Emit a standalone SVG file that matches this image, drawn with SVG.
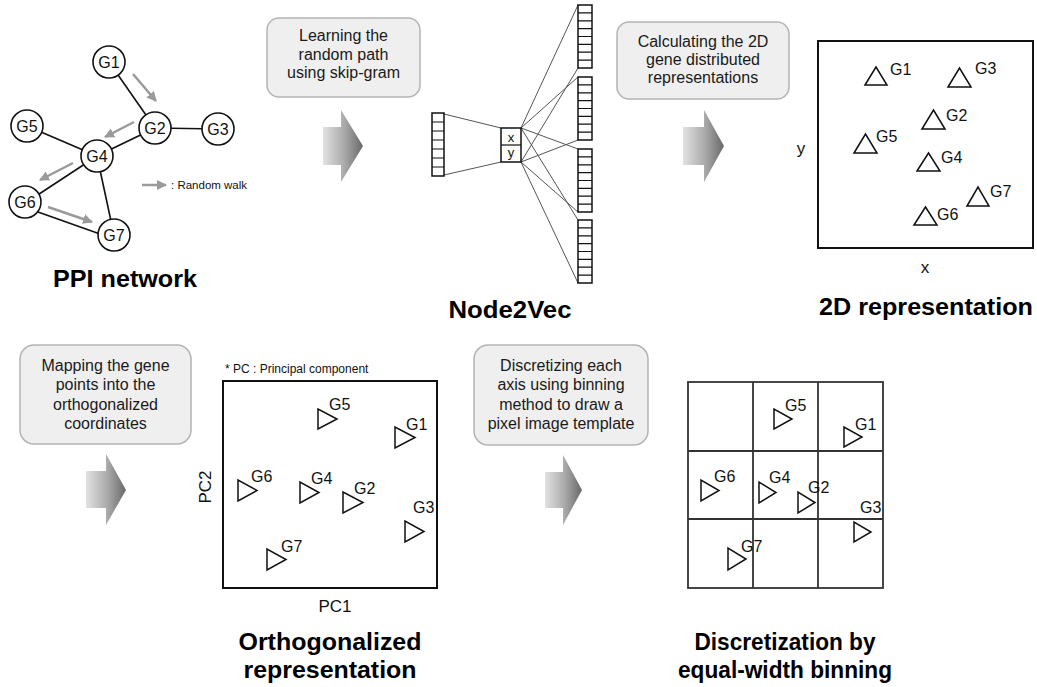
<svg xmlns="http://www.w3.org/2000/svg" width="1037" height="687" viewBox="0 0 1037 687">
<defs>
<linearGradient id="gArrow" x1="0" y1="0" x2="1" y2="0">
<stop offset="0" stop-color="#e2e2e2"/>
<stop offset="0.55" stop-color="#a8a8a8"/>
<stop offset="1" stop-color="#686868"/>
</linearGradient>
<marker id="walk" viewBox="0 0 10 10" refX="9" refY="5" markerWidth="4" markerHeight="4" orient="auto" markerUnits="strokeWidth">
<path d="M0,0 L10,5 L0,10 Z" fill="#9a9a9a"/>
</marker>
<style>
text{font-family:"Liberation Sans",Arial,sans-serif;fill:#111}
.title{font-size:23px;font-weight:bold;text-anchor:middle;fill:#000}
.box{fill:#efefef;stroke:#b4b4b4;stroke-width:1.5}
.boxt{font-size:16px;text-anchor:middle;fill:#1a1a1a}
.node{fill:#fff;stroke:#111;stroke-width:1.6}
.nlab{font-size:16px;text-anchor:middle}
.edge{stroke:#111;stroke-width:1.6}
.walk{stroke:#9a9a9a;stroke-width:2.5;fill:none}
.vec{fill:#fff;stroke:#111;stroke-width:1.5}
.cell{stroke:#111;stroke-width:1.2}
.nn{stroke:#555;stroke-width:1}
.frame{fill:none;stroke:#111;stroke-width:2}
.tri{fill:#fff;stroke:#111;stroke-width:1.5}
.glab{font-size:16px}
.grid{stroke:#333;stroke-width:1.8;fill:none}
.axis{font-size:17px;text-anchor:middle}
</style>
</defs>

<!-- process arrows -->
<g id="arrows" fill="url(#gArrow)">
<path d="M323,127 L341,127 L341,110 L363,146 L341,182 L341,165 L323,165 Z"/>
<path d="M683,127 L704,127 L704,110 L724,146 L704,182 L704,165 L683,165 Z"/>
<path d="M86,471 L106,471 L106,454 L126,490 L106,525 L106,508 L86,508 Z"/>
<path d="M545,472 L563,472 L563,455 L582,490 L563,525 L563,508 L545,508 Z"/>
</g>

<!-- PPI network -->
<g id="connectors">
<line class="edge" x1="109" y1="62" x2="155" y2="128"/>
<line class="edge" x1="155" y1="128" x2="218" y2="129"/>
<line class="edge" x1="27" y1="126" x2="97" y2="156"/>
<line class="edge" x1="155" y1="128" x2="97" y2="156"/>
<line class="edge" x1="97" y1="156" x2="30" y2="200"/>
<line class="edge" x1="97" y1="156" x2="114" y2="235"/>
<line class="edge" x1="38" y1="212" x2="100" y2="234"/>
<line class="walk" x1="133" y1="74" x2="156" y2="101" marker-end="url(#walk)"/>
<line class="walk" x1="134" y1="122" x2="105" y2="137" marker-end="url(#walk)"/>
<line class="walk" x1="73" y1="163" x2="40" y2="180" marker-end="url(#walk)"/>
<line class="walk" x1="48" y1="207" x2="92" y2="222" marker-end="url(#walk)"/>
</g>
<g id="node-G1"><circle class="node" cx="109" cy="62" r="16"/><text class="nlab" x="109" y="68">G1</text></g>
<g id="node-G2"><circle class="node" cx="155" cy="128" r="16"/><text class="nlab" x="155" y="134">G2</text></g>
<g id="node-G3"><circle class="node" cx="218" cy="129" r="16"/><text class="nlab" x="218" y="135">G3</text></g>
<g id="node-G5"><circle class="node" cx="27" cy="126" r="16"/><text class="nlab" x="27" y="132">G5</text></g>
<g id="node-G4"><circle class="node" cx="97" cy="156" r="16"/><text class="nlab" x="97" y="162">G4</text></g>
<g id="node-G6"><circle class="node" cx="25" cy="202" r="16"/><text class="nlab" x="25" y="208">G6</text></g>
<g id="node-G7"><circle class="node" cx="114" cy="235" r="16"/><text class="nlab" x="114" y="241">G7</text></g>
<g id="legend">
<line class="walk" x1="142" y1="185" x2="166" y2="185" marker-end="url(#walk)"/>
<text x="171" y="189" style="font-size:11.5px">: Random walk</text>
</g>
<text class="title" x="125" y="287" textLength="144" lengthAdjust="spacingAndGlyphs">PPI network</text>

<!-- step boxes -->
<g id="box-learning">
<rect class="box" x="267" y="18" width="153" height="79" rx="12"/>
<text class="boxt" x="343.5" y="41">Learning the</text>
<text class="boxt" x="343.5" y="59.5">random path</text>
<text class="boxt" x="343.5" y="78">using skip-gram</text>
</g>
<g id="box-calculating">
<rect class="box" x="617" y="22" width="172" height="77" rx="12"/>
<text class="boxt" x="703" y="47">Calculating the 2D</text>
<text class="boxt" x="703" y="65">gene distributed</text>
<text class="boxt" x="703" y="83">representations</text>
</g>
<g id="box-mapping">
<rect class="box" x="20" y="345" width="171" height="99" rx="14"/>
<text class="boxt" x="105.5" y="371">Mapping the gene</text>
<text class="boxt" x="105.5" y="390">points into the</text>
<text class="boxt" x="105.5" y="409.5">orthogonalized</text>
<text class="boxt" x="105.5" y="429">coordinates</text>
</g>
<g id="box-discretizing">
<rect class="box" x="474" y="345" width="174" height="100" rx="14"/>
<text class="boxt" x="561" y="371">Discretizing each</text>
<text class="boxt" x="561" y="390">axis using binning</text>
<text class="boxt" x="561" y="409.5">method to draw a</text>
<text class="boxt" x="561" y="429">pixel image template</text>
</g>

<!-- Node2Vec -->
<g id="node2vec">
<line class="nn" x1="444" y1="114" x2="501" y2="128"/>
<line class="nn" x1="444" y1="175" x2="501" y2="162"/>
<line class="nn" x1="521" y1="128" x2="578" y2="5"/>
<line class="nn" x1="521" y1="128" x2="578" y2="77"/>
<line class="nn" x1="521" y1="128" x2="578" y2="149"/>
<line class="nn" x1="521" y1="128" x2="578" y2="220"/>
<line class="nn" x1="521" y1="162" x2="578" y2="68"/>
<line class="nn" x1="521" y1="162" x2="578" y2="140"/>
<line class="nn" x1="521" y1="162" x2="578" y2="212"/>
<line class="nn" x1="521" y1="162" x2="578" y2="283"/>
<rect class="vec" x="432" y="113" width="12" height="63"/>
<path class="cell" d="M432,122H444M432,131H444M432,140H444M432,149H444M432,158H444M432,167H444"/>
<rect class="vec" x="501" y="128" width="20" height="34"/>
<line class="cell" x1="501" y1="145" x2="521" y2="145"/>
<text x="511" y="141.5" style="font-size:13px;text-anchor:middle">x</text>
<text x="511" y="157" style="font-size:13px;text-anchor:middle">y</text>
<rect class="vec" x="578" y="5" width="14" height="63"/>
<path class="cell" d="M578,12.9H592M578,20.8H592M578,28.6H592M578,36.5H592M578,44.4H592M578,52.2H592M578,60.1H592"/>
<rect class="vec" x="578" y="77" width="14" height="63"/>
<path class="cell" d="M578,84.9H592M578,92.8H592M578,100.6H592M578,108.5H592M578,116.4H592M578,124.2H592M578,132.1H592"/>
<rect class="vec" x="578" y="149" width="14" height="63"/>
<path class="cell" d="M578,156.9H592M578,164.8H592M578,172.6H592M578,180.5H592M578,188.4H592M578,196.2H592M578,204.1H592"/>
<rect class="vec" x="578" y="220" width="14" height="63"/>
<path class="cell" d="M578,227.9H592M578,235.8H592M578,243.6H592M578,251.5H592M578,259.4H592M578,267.2H592M578,275.1H592"/>
</g>
<text class="title" x="510" y="318" textLength="123" lengthAdjust="spacingAndGlyphs">Node2Vec</text>

<!-- 2D representation -->
<g id="panel-2d">
<rect class="frame" x="818" y="41" width="215" height="207"/>
<polygon class="tri" points="865,85 876,67 887,85"/><text class="glab" x="890" y="75">G1</text>
<polygon class="tri" points="948,87 959.5,68 971,87"/><text class="glab" x="975" y="74">G3</text>
<polygon class="tri" points="922,129 933.5,110 945,129"/><text class="glab" x="946" y="121">G2</text>
<polygon class="tri" points="854,153 865.5,134 877,153"/><text class="glab" x="876" y="142">G5</text>
<polygon class="tri" points="917,171 928.5,153 940,171"/><text class="glab" x="941" y="163">G4</text>
<polygon class="tri" points="967,206 978,187 989,206"/><text class="glab" x="990" y="197">G7</text>
<polygon class="tri" points="914,225 925.5,207 937,225"/><text class="glab" x="937" y="220">G6</text>
<text class="axis" x="801" y="154">y</text>
<text class="axis" x="925" y="273">x</text>
</g>
<text class="title" x="926" y="315" textLength="214" lengthAdjust="spacingAndGlyphs">2D representation</text>

<!-- Orthogonalized representation -->
<g id="panel-orth">
<text x="225" y="373" style="font-size:12px">* PC : Principal component</text>
<rect class="frame" x="223" y="381" width="214" height="207"/>
<polygon class="tri" points="318,409 318,429 337,419"/><text class="glab" x="329" y="410">G5</text>
<polygon class="tri" points="395,427 395,448 415,437.5"/><text class="glab" x="406" y="430">G1</text>
<polygon class="tri" points="238,480 238,501 257,490.5"/><text class="glab" x="251" y="482">G6</text>
<polygon class="tri" points="300,482 300,503 319,492.5"/><text class="glab" x="311" y="484">G4</text>
<polygon class="tri" points="343,492 343,513 363,502.5"/><text class="glab" x="354" y="494">G2</text>
<polygon class="tri" points="405,521 405,542 424,531.5"/><text class="glab" x="413" y="513">G3</text>
<polygon class="tri" points="267,549 267,570 286,559.5"/><text class="glab" x="281" y="552">G7</text>
<text class="axis" x="0" y="0" transform="translate(211,487) rotate(-90)">PC2</text>
<text class="axis" x="335" y="612">PC1</text>
</g>
<text class="title" x="330" y="650" textLength="183" lengthAdjust="spacingAndGlyphs">Orthogonalized</text>
<text class="title" x="330" y="678" textLength="173" lengthAdjust="spacingAndGlyphs">representation</text>

<!-- Discretization -->
<g id="panel-grid">
<rect class="grid" x="688" y="382" width="195" height="206"/>
<path class="grid" d="M753,382V588M818,382V588M688,451H883M688,519H883"/>
<polygon class="tri" points="774,409 774,429 792,419"/><text class="glab" x="785" y="411">G5</text>
<polygon class="tri" points="844,427 844,447 862,437"/><text class="glab" x="855" y="430">G1</text>
<polygon class="tri" points="701,480 701,501 719,490.5"/><text class="glab" x="714" y="482">G6</text>
<polygon class="tri" points="759,482 759,503 776,492.5"/><text class="glab" x="769" y="483">G4</text>
<polygon class="tri" points="798,492 798,513 815,502.5"/><text class="glab" x="808" y="493">G2</text>
<polygon class="tri" points="854,522 854,542 871,532"/><text class="glab" x="860" y="513">G3</text>
<polygon class="tri" points="728,548 728,570 746,559"/><text class="glab" x="741" y="552">G7</text>
</g>
<text class="title" x="785" y="650" textLength="181" lengthAdjust="spacingAndGlyphs">Discretization by</text>
<text class="title" x="785" y="678" textLength="214" lengthAdjust="spacingAndGlyphs">equal-width binning</text>
</svg>
